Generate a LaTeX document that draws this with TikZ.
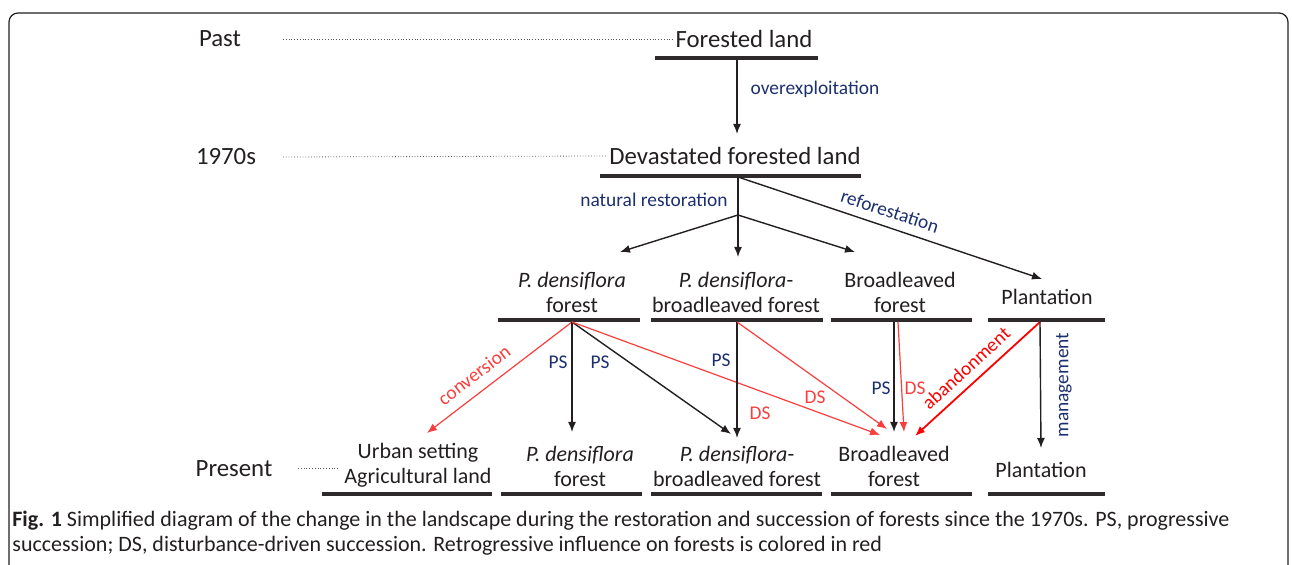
\documentclass[tikz,border=0pt]{standalone}
\usepackage{fontspec}
\setmainfont{Carlito}
\usepackage{tikz}
\usetikzlibrary{arrows.meta}

\definecolor{navy}{RGB}{28,48,112}
\definecolor{softred}{RGB}{250,62,62}
\definecolor{ink}{RGB}{35,31,32}

\tikzset{
  lbl/.style={font=\fontsize{12.4}{13.2}\selectfont, text=ink, align=center, inner sep=1pt},
  stage/.style={font=\fontsize{11}{12.5}\selectfont, text=ink, align=center, inner sep=1pt},
  note/.style={font=\fontsize{9.7}{11}\selectfont, text=navy, inner sep=1pt},
  rnote/.style={font=\fontsize{9.7}{11}\selectfont, text=softred, inner sep=1pt},
  bar/.style={fill=ink!95, minimum height=2pt, inner sep=0pt},
  guide/.style={densely dotted, line width=0.4pt, ink!75},
  arr/.style={-{Latex[length=5pt,width=4pt]}, line width=0.7pt, ink},
  rarr/.style={-{Latex[length=5pt,width=4pt]}, line width=0.6pt, softred},
}

\begin{document}
\begin{tikzpicture}[x=0.5pt, y=-0.5pt]
    \useasboundingbox (0,0) rectangle (1292,565);

    % frame
    \draw[line width=0.6pt, ink, rounded corners=4.5pt] (9,565) -- (9,13) -- (1288,13) -- (1288,565);

    % time axis
    \node[lbl] (past) at (220,39) {Past};
    \node[lbl] (y1970) at (226,157) {1970s};
    \node[lbl] (present) at (234,469) {Present};

    % upper stages
    \node[lbl] (fl) at (744,39) {Forested land};
    \node[bar, minimum width=81.5pt] (fl-bar) at (736.5,58) {};
    \node[lbl] (dv) at (735,156) {Devastated forested land};
    \node[bar, minimum width=130.5pt] (dv-bar) at (730.5,176) {};

    \draw[guide] (283,39) -- (fl.west);
    \draw[guide] (283,157) -- (dv.west);
    \draw[guide] (298,468) -- (338,468);

    % middle row
    \node[stage] (pd1) at (572,292) {\textit{P. densiflora}\\forest};
    \node[bar, minimum width=71pt] (pd1-bar) at (569,320) {};
    \node[stage] (pb1) at (736,292) {\textit{P. densiflora}-\\broadleaved forest};
    \node[bar, minimum width=86pt] (pb1-bar) at (737,320) {};
    \node[stage] (bl1) at (900,292) {Broadleaved\\forest};
    \node[bar, minimum width=70.5pt] (bl1-bar) at (901.5,320) {};
    \node[stage] (pl1) at (1047,297) {Plantation};
    \node[bar, minimum width=58.5pt] (pl1-bar) at (1046.5,320) {};

    % bottom row
    \node[stage] (us) at (418,465) {Urban setting\\Agricultural land};
    \node[bar, minimum width=85pt] (us-bar) at (407,494) {};
    \node[stage] (pd2) at (580,466) {\textit{P. densiflora}\\forest};
    \node[bar, minimum width=70.5pt] (pd2-bar) at (571.5,494) {};
    \node[stage] (pb2) at (737,466) {\textit{P. densiflora}-\\broadleaved forest};
    \node[bar, minimum width=85.5pt] (pb2-bar) at (736.5,494) {};
    \node[stage] (bl2) at (894,466) {Broadleaved\\forest};
    \node[bar, minimum width=70.5pt] (bl2-bar) at (901.5,494) {};
    \node[stage] (pl2) at (1041,470) {Plantation};
    \node[bar, minimum width=58.5pt] (pl2-bar) at (1046.5,494) {};

    % branching points
    \coordinate (dv-src) at (738,177);
    \coordinate (split) at (738,215);
    \coordinate (pd1-src) at (572,322);
    \coordinate (pb1-src) at (737,322);
    \coordinate (bl1-src) at (894,322);
    \coordinate (bl1-rsrc) at (898,322);
    \coordinate (pl1-src) at (1040,322);

    % arrow tips
    \coordinate (dv-in) at (737,134);
    \coordinate (pd1-in) at (620,252);
    \coordinate (pb1-in) at (738,257);
    \coordinate (bl1-in) at (855,252);
    \coordinate (pl1-in) at (1042,279);
    \coordinate (us-in) at (427,433);
    \coordinate (pd2-in) at (572,432);
    \coordinate (pb2-a) at (731,434);
    \coordinate (pb2-b) at (737,438);
    \coordinate (bl2-a) at (880,435);
    \coordinate (bl2-b) at (887,429);
    \coordinate (bl2-c) at (894,432);
    \coordinate (bl2-d) at (904,432);
    \coordinate (bl2-e) at (915,436);
    \coordinate (pl2-in) at (1041,448);

    % past to 1970s
    \draw[arr] (fl-bar.south -| dv-in) -- (dv-in);
    \node[note] (oe) at (815,89) {overexploitation};

    % 1970s onwards
    \draw[line width=0.7pt, ink] (dv-src) -- (split);
    \draw[arr] (split) -- (pd1-in);
    \draw[arr] (split) -- (pb1-in);
    \draw[arr] (split) -- (bl1-in);
    \node[note] (nr) at (654,200) {natural restoration};
    \draw[arr] (dv-src) -- (pl1-in);
    \node[note, rotate=-18.2] (rf) at (890,211) {reforestation};

    % to present
    \draw[rarr] (pd1-src) -- (us-in);
    \node[rnote, rotate=37.2] (cv) at (474,375) {conversion};
    \draw[arr] (pd1-src) -- (pd2-in);
    \node[note] (ps1) at (558,362) {PS};
    \draw[arr] (pd1-src) -- (pb2-a);
    \node[note] (ps2) at (600,362) {PS};
    \draw[rarr] (pd1-src) -- (bl2-a);
    \node[rnote] (ds1) at (760,413) {DS};

    \draw[arr] (pb1-src) -- (pb2-b);
    \node[note] (ps3) at (721,360) {PS};
    \draw[rarr] (pb1-src) -- (bl2-b);
    \node[rnote] (ds2) at (815,397) {DS};

    \draw[arr] (bl1-src) -- (bl2-c);
    \node[note] (ps4) at (881,388) {PS};
    \draw[rarr] (bl1-rsrc) -- (bl2-d);
    \node[rnote] (ds3) at (915,388) {DS};

    \draw[rarr, red, line width=0.9pt] (pl1-src) -- (bl2-e);
    \node[rnote, text=red, rotate=42.4] (ab) at (966,368) {abandonment};
    \draw[arr] (pl1-src) -- (pl2-in);
    \node[note, rotate=90] (mg) at (1064,385) {management};

    % caption
    \node[anchor=west, inner sep=0pt, text=ink, font=\fontsize{11}{12}\selectfont] (cap1) at (12,521)
      {\textbf{Fig. 1} Simplified diagram of the change in the landscape during the restoration and succession of forests since the 1970s. PS, progressive};
    \node[anchor=west, inner sep=0pt, text=ink, font=\fontsize{11}{12}\selectfont] (cap2) at (12,546)
      {succession; DS, disturbance-driven succession. Retrogressive influence on forests is colored in red};
\end{tikzpicture}
\end{document}
